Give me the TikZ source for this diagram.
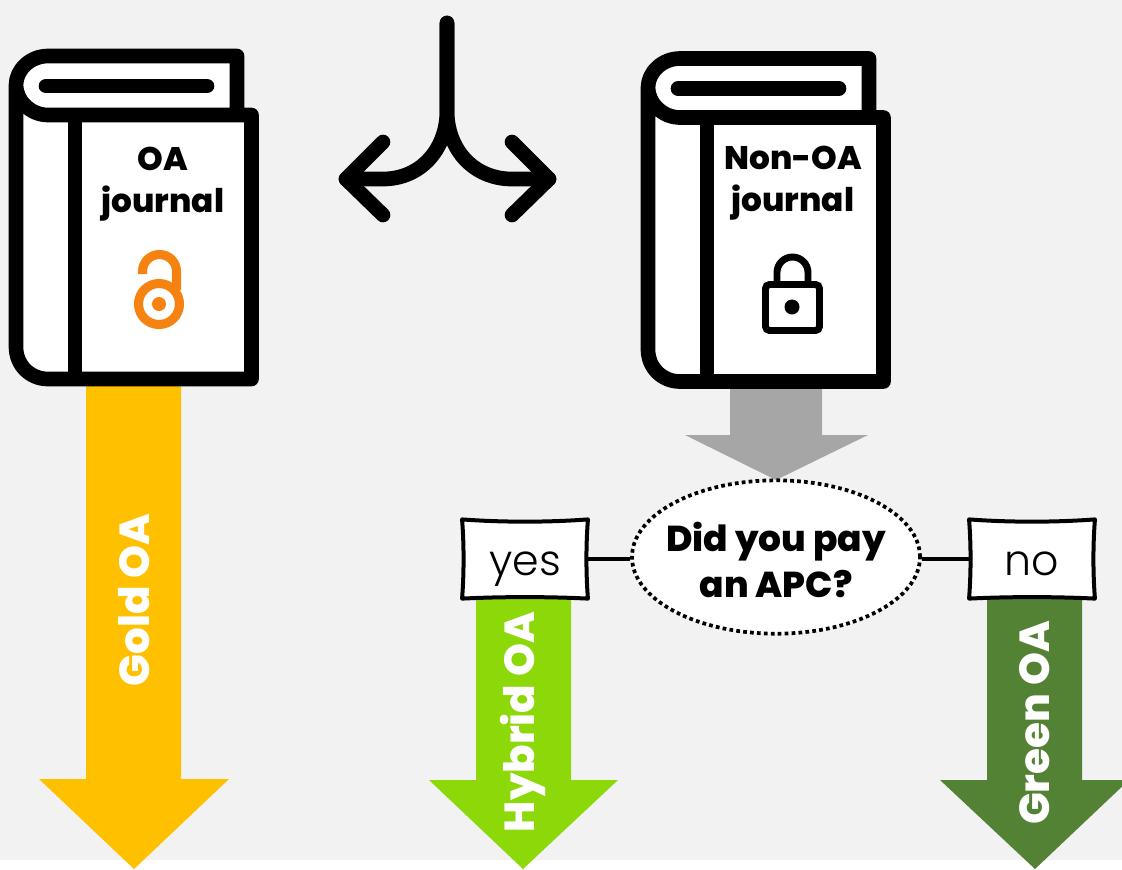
\documentclass[tikz,border=0pt]{standalone}
\usepackage{fontspec}
\setmainfont{Poppins}
\newfontfamily\heavyfont{Poppins ExtraBold}
\newfontfamily\lightfont{Poppins Light}
\usetikzlibrary{shapes.geometric}
\definecolor{panelgray}{HTML}{F2F2F2}
\definecolor{goldoa}{HTML}{FFC000}
\definecolor{hybridoa}{HTML}{8CD808}
\definecolor{greenoa}{HTML}{548235}
\definecolor{lockorange}{HTML}{F68212}
\definecolor{stepgray}{HTML}{A6A6A6}

\begin{document}
\begin{tikzpicture}[
    x=0.75pt,y=-0.75pt,
    % define styles
    heavy/.style={
        font=\heavyfont\fontsize{24.5}{31.5}\selectfont,
        align=center,
        inner sep=0pt
    },
    route/.style={
        font=\heavyfont\fontsize{31.5}{34}\selectfont,
        text=white,
        rotate=90,
        inner sep=0pt
    },
    answer/.style={
        fill=white,
        minimum width=94pt,
        minimum height=59pt,
        inner sep=0pt,
        text height=24pt,
        text depth=0pt,
        font=\lightfont\fontsize{32}{36}\selectfont
    },
    question/.style={
        draw,
        ellipse,
        fill=white,
        line width=2.8pt,
        dash pattern=on 2.8pt off 2.4pt,
        minimum width=216pt,
        minimum height=115pt,
        inner sep=0pt
    },
    questiontext/.style={
        align=center,
        inner sep=0pt,
        font=\heavyfont\fontsize{27}{34}\selectfont
    },
    stroke/.style={
        line width=11pt,
        line cap=round,
        line join=round
    },
    link/.style={
        line width=3pt
    },
    bookicon/.pic={
        \fill[white] (237,115) -- (237,56) -- (48,56)
            .. controls (30,56) and (16,70) .. (16,85) -- (16,347)
            .. controls (16,365) and (30,379) .. (48,379)
            -- (251.5,379) -- (251.5,115) -- cycle;
        \draw[stroke] (237,115) -- (237,56) -- (48,56)
            .. controls (30,56) and (16,70) .. (16,85)
            .. controls (16,100) and (30,115) .. (48,115) -- (251.5,115)
            -- (251.5,379) -- (48,379)
            .. controls (30,379) and (16,365) .. (16,347) -- (16,85);
        \draw[stroke,line cap=butt] (75,115) -- (75,379);
        \draw[stroke] (46,86) -- (207,86);
    }
]
\useasboundingbox (0,0) rectangle (1122,869);
\clip (0,0) rectangle (1122,869);
\fill[panelgray] (0,0) rectangle (1122,860);

% Route arrows
\fill[goldoa] (86,380) -- (181,380) -- (181,779) -- (229,779) -- (134,869) -- (39,779) -- (86,779) -- cycle;
\fill[stepgray] (730,380) -- (822,380) -- (822,435) -- (868,435) -- (776,480) -- (685,435) -- (730,435) -- cycle;
\fill[hybridoa] (476,590) -- (571,590) -- (571,780) -- (618,780) -- (523,869) -- (429,780) -- (476,780) -- cycle;
\fill[greenoa] (987,590) -- (1082,590) -- (1082,780) -- (1129,780) -- (1035,869) -- (940,780) -- (987,780) -- cycle;

\node[route] (gold) at (134,600) {Gold OA};
\node[route] (hybrid) at (523,722) {Hybrid OA};
\node[route] (green) at (1035,723) {Green OA};

% Books
\pic at (0,0) {bookicon};
\pic at (632,2.5) {bookicon};
\node[heavy] (oa) at (163,184) {OA\\journal};
\node[heavy] (nonoa) at (793,183) {Non-OA\\journal};

% Open lock
\draw[lockorange,line width=6.8pt] (159,304) circle (20.5);
\fill[lockorange] (159,304) circle (7);
\draw[lockorange,line width=6.8pt] (142.5,274) -- (142.5,271.5)
    .. controls (142.5,262) and (150,254.5) .. (159.5,254.5)
    .. controls (169,254.5) and (176.5,262) .. (176.5,271.5) -- (176.5,290);

% Closed lock
\draw[line width=5.2pt,rounded corners=3pt] (765.5,284.5) rectangle (819.5,330.5);
\fill (792,307) circle (7.5);
\draw[line width=5.2pt] (777,284.5) -- (777,272.5)
    .. controls (777,264) and (784,257) .. (792.5,257)
    .. controls (801,257) and (808,264) .. (808,272.5) -- (808,284.5);

% Split arrow
\coordinate (splittop) at (447,23);
\coordinate (splitleft) at (346,179);
\coordinate (splitright) at (549,179);
\draw[stroke] (splittop) -- (447,110) .. controls (447,150) and (420,179) .. (383,179) -- (splitleft);
\draw[stroke] (splittop) -- (447,110) .. controls (447,150) and (474,179) .. (512,179) -- (splitright);
\draw[stroke] (383,142) -- (splitleft) -- (383,215);
\draw[stroke] (512,142) -- (splitright) -- (512,215);

% Question and answers
\node[question] (apc) at (776,557) {};
\node[questiontext] (apctext) at (776,560) {Did you pay\\an APC?};
\node[answer] (yes) at (525,559) {yes};
\node[answer] (no) at (1032,559) {no};
\draw[link] (yes) -- (yes-|apc.west);
\draw[link] (no) -- (no-|apc.east);
% hand drawn box edges
\foreach \boxname in {yes,no} {
    \draw[link,line join=round] (\boxname.north west)
        .. controls +(40,3) and +(-40,3) .. (\boxname.north east)
        .. controls +(-2,25) and +(-2,-25) .. (\boxname.south east)
        .. controls +(-40,-2) and +(40,-2) .. (\boxname.south west)
        .. controls +(2,-25) and +(2,25) .. cycle;
}
\end{tikzpicture}
\end{document}
